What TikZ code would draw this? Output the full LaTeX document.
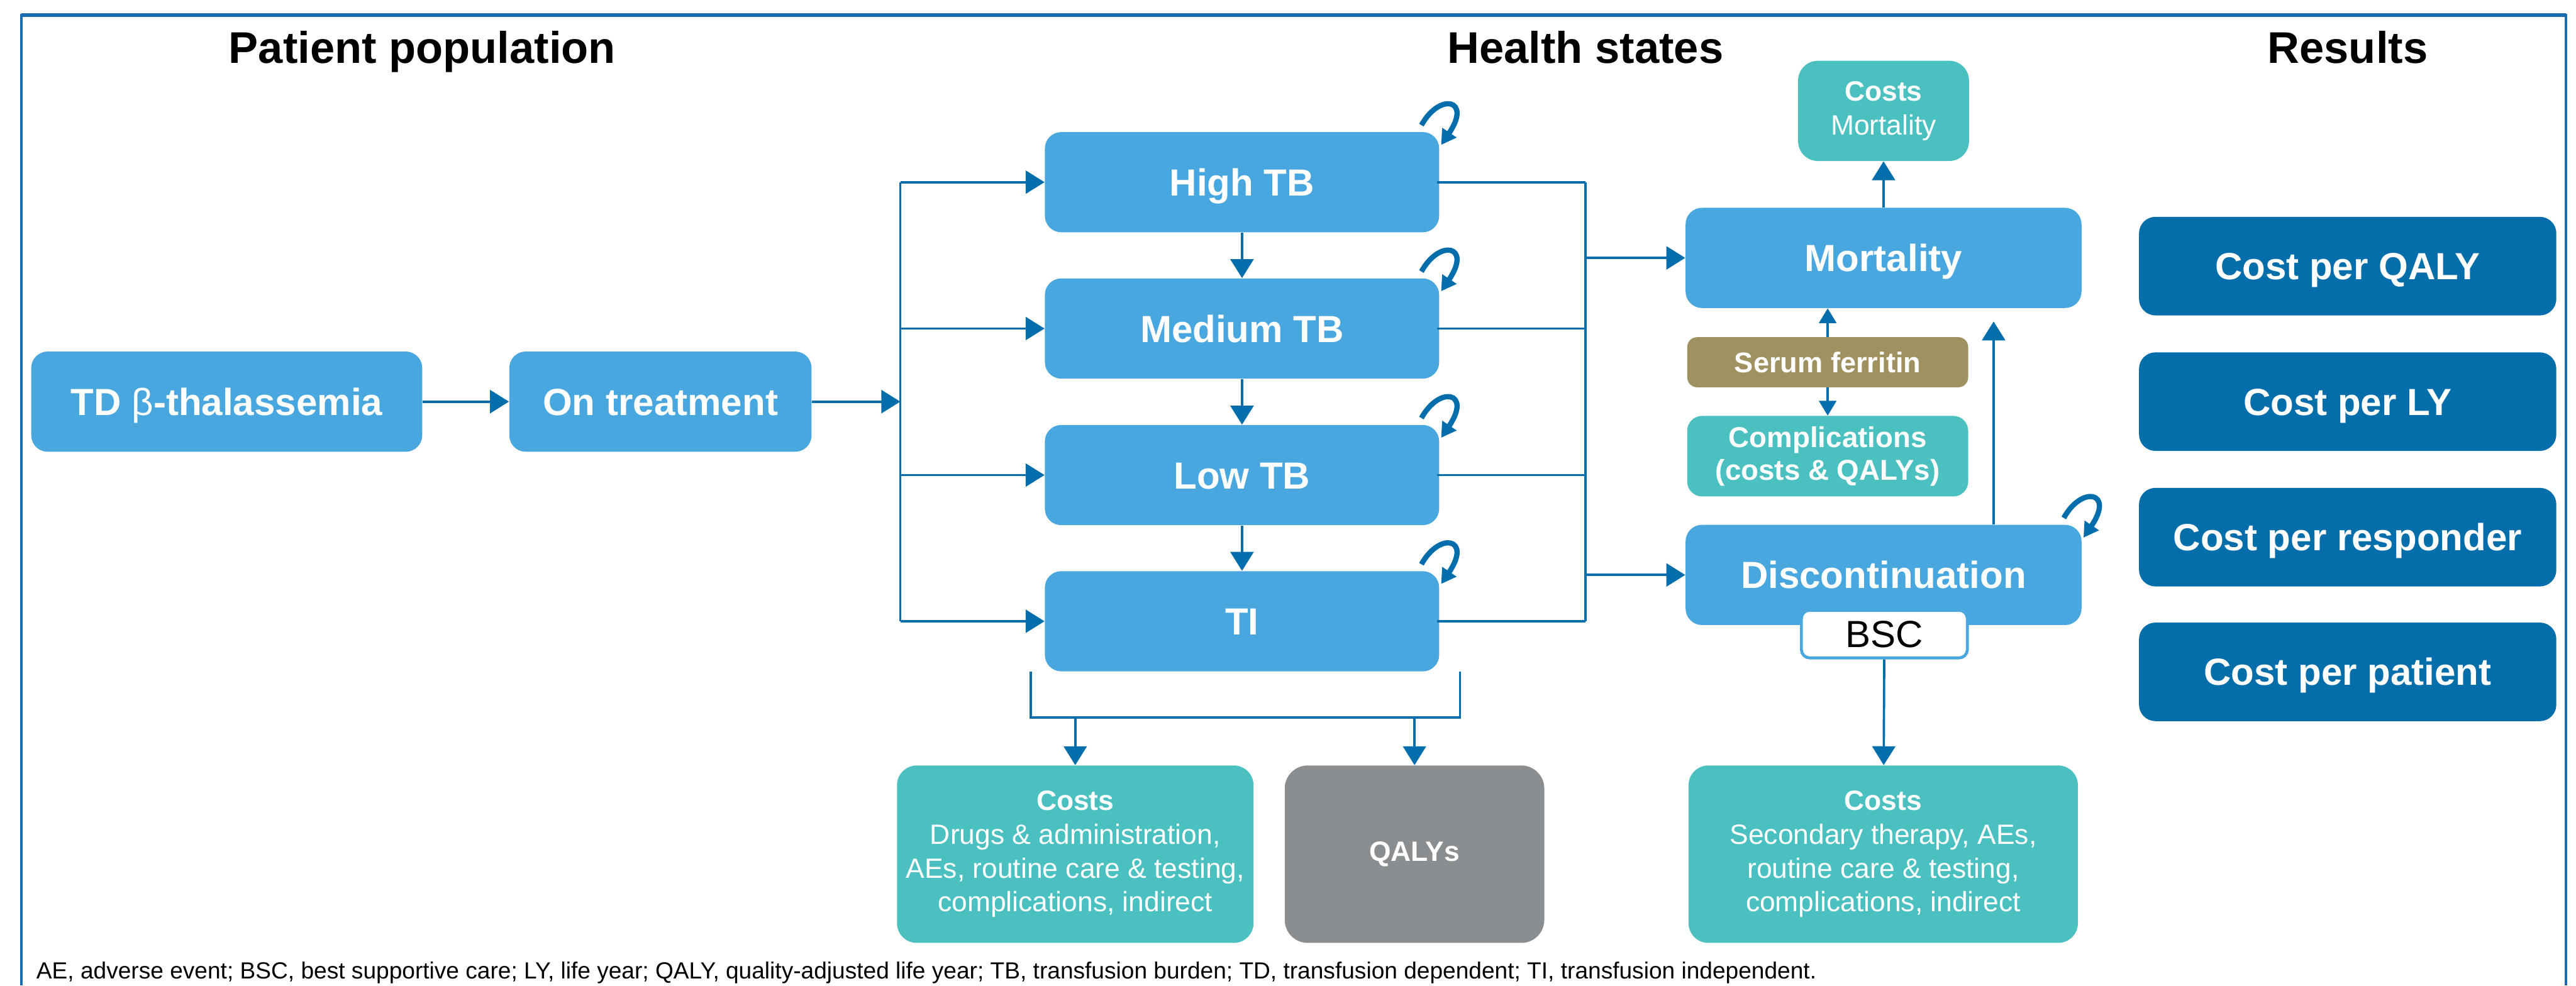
\documentclass[tikz,border=0pt]{standalone}
\usepackage{fontspec}
\setmainfont{Liberation Sans}
\usepackage{xcolor}
\usetikzlibrary{arrows, arrows.meta}
\usetikzlibrary{positioning}
\usetikzlibrary{calc}

\definecolor{stateblue}{RGB}{72,167,222}
\definecolor{lineblue}{RGB}{3,110,171}
\definecolor{resblue}{RGB}{4,110,170}
\definecolor{frameblue}{RGB}{27,107,175}
\definecolor{costteal}{RGB}{74,193,192}
\definecolor{qalygrey}{RGB}{138,142,144}
\definecolor{ferritin}{RGB}{160,145,96}

\newcommand{\headfont}{\fontsize{27}{32}\selectfont\bfseries}
\newcommand{\statefont}{\fontsize{23}{27}\selectfont\bfseries}
\newcommand{\costfont}{\fontsize{17}{20.5}\selectfont}
\newcommand{\notefont}{\fontsize{14.2}{17}\selectfont}

\tikzset{
  state/.style={fill=stateblue, text=white, rounded corners=10pt, inner sep=0pt,
    minimum width=240pt, minimum height=61pt, font=\statefont,
    text height=16.5pt, text depth=0pt},
  result/.style={fill=resblue, text=white, rounded corners=10pt, inner sep=0pt,
    minimum width=254pt, minimum height=60pt, font=\statefont,
    text height=16.5pt, text depth=0pt},
  costbox/.style={fill=costteal, text=white, rounded corners=12pt, inner sep=0pt,
    align=center, font=\costfont},
  wire/.style={lineblue, line width=1.4pt},
  flow/.style={wire, -{Triangle[length=11.5pt,width=14pt]}},
  shortflow/.style={wire, -{Triangle[length=9pt,width=10.5pt]}},
  selfloop/.style={lineblue, line width=3.2pt, -{Triangle[length=9pt,width=10pt]}},
}

% little curved arrow on the top right corner of a state
\newcommand{\stayloop}[1]{%
  \draw[selfloop] ([shift={(-11,-4)}]#1.north east)
    .. controls ([shift={(0,-24)}]#1.north east) and ([shift={(20,-20)}]#1.north east)
    .. ([shift={(1,8)}]#1.north east);}

\begin{document}
\begin{tikzpicture}[x=1pt,y=-1pt]
  \useasboundingbox (0,0) rectangle (1568,600);

  % frame
  \draw[frameblue, line width=1.6pt] (13,600) -- (13,9.2) -- (1562,9.2) -- (1562,600);
  \draw[frameblue, line width=2pt] (13,9.2) -- (1562,9.2);

  % headings
  \node[anchor=base, font=\headfont] (hpop) at (257,38.5) {Patient population};
  \node[anchor=base, font=\headfont] (hstates) at (965,38.5) {Health states};
  \node[anchor=base, font=\headfont] (hres) at (1429,38.5) {Results};

  % patient population
  \node[state, minimum width=238pt] (td) at (138,244.5) {TD {\mdseries β}-thalassemia};
  \node[state, minimum width=184pt] (ontreat) at (402,244.5) {On treatment};

  % transfusion burden states
  \node[state] (high) at (756,110.9) {High TB};
  \node[state] (medium) at (756,200) {Medium TB};
  \node[state] (low) at (756,289.2) {Low TB};
  \node[state] (ti) at (756,378.2) {TI};

  % end states
  \node[state, minimum width=241pt] (mort) at (1146.5,157) {Mortality};
  \node[state, minimum width=241pt] (disc) at (1146.5,350) {Discontinuation};
  \node[fill=white, draw=stateblue, line width=1.8pt, rounded corners=5pt, inner sep=0pt,
    minimum width=101pt, minimum height=29pt, font=\fontsize{23}{27}\selectfont,
    text height=16.5pt, text depth=0pt] (bsc) at (1147,386) {BSC};

  \node[costbox, minimum width=104pt, minimum height=61pt] (mcost) at (1146.5,67.5)
    {\textbf{Costs}\\Mortality};
  \node[fill=ferritin, text=white, rounded corners=6pt, inner sep=0pt,
    minimum width=171pt, minimum height=30.5pt, font=\fontsize{17.3}{20}\selectfont\bfseries,
    text height=12.4pt, text depth=0pt] (ferr) at (1112.5,220.5) {Serum ferritin};
  \node[costbox, rounded corners=9pt, minimum width=171pt, minimum height=49pt,
    font=\fontsize{17.5}{20}\selectfont\bfseries] (compl) at (1112.5,277.7)
    {Complications\\(costs \& QALYs)};

  % outcomes of the states
  \node[costbox, minimum width=217pt, minimum height=108pt] (tcost) at (654.5,520)
    {\textbf{Costs}\\Drugs \& administration,\\AEs, routine care \& testing,\\complications, indirect};
  \node[fill=qalygrey, text=white, rounded corners=14pt, inner sep=0pt,
    minimum width=158pt, minimum height=108pt, font=\costfont\bfseries] (qaly) at (861,520) {QALYs};
  \node[costbox, minimum width=237pt, minimum height=108pt] (dcost) at (1146.3,520)
    {\textbf{Costs}\\Secondary therapy, AEs,\\routine care \& testing,\\complications, indirect};

  % results
  \node[result] (rqaly) at (1429,162) {Cost per QALY};
  \node[result] (rly) at (1429,244.5) {Cost per LY};
  \node[result] (rresp) at (1429,327) {Cost per responder};
  \node[result] (rpat) at (1429,409) {Cost per patient};

  % left bus
  \coordinate (lt) at (548,110.9);
  \coordinate (lb) at (548,378.2);
  \draw[flow] (td) -- (ontreat);
  \draw[flow] (ontreat) -- (ontreat -| lt);
  \draw[wire] (lt) -- (lb);
  \foreach \s in {high,medium,low,ti}
    \draw[flow] (\s.west -| lt) -- (\s.west);

  % down the TB states
  \draw[flow] (high) -- (medium);
  \draw[flow] (medium) -- (low);
  \draw[flow] (low) -- (ti);

  % right bus
  \coordinate (rt) at (965,110.9);
  \coordinate (rb) at (965,378.2);
  \draw[wire] (rt) -- (rb);
  \foreach \s in {high,medium,low,ti}
    \draw[wire] ([xshift=-1.5pt]\s.east) -- (\s.east -| rt);
  \draw[flow] (mort.west -| rt) -- (mort.west);
  \draw[flow] (disc.west -| rt) -- (disc.west);

  % staying in the same state
  \foreach \s in {high,medium,low,ti,disc}
    \stayloop{\s};

  % mortality side
  \draw[flow] (mort) -- (mcost);
  \draw[shortflow] (ferr) -- (ferr |- mort.south);
  \draw[shortflow] (ferr) -- (compl);
  \draw[flow, shorten >=8pt] ([xshift=67pt]disc.north) -- ([xshift=67pt]mort.south);
  \draw[flow] (bsc) -- (dcost);

  % bracket under the TB states
  \coordinate (bl) at ([shift={(-8.5,28)}]ti.south west);
  \draw[wire] ([xshift=-8.5pt]ti.south west) -- (bl) -| ([xshift=12.5pt]ti.south east);
  \draw[flow] (tcost |- bl) -- (tcost);
  \draw[flow] (qaly |- bl) -- (qaly);

  % abbreviations
  \node[anchor=base west, font=\notefont, inner sep=0pt] (note) at (22,596)
    {AE, adverse event; BSC, best supportive care; LY, life year; QALY, quality-adjusted life year; TB, transfusion burden; TD, transfusion dependent; TI, transfusion independent.};
\end{tikzpicture}
\end{document}
